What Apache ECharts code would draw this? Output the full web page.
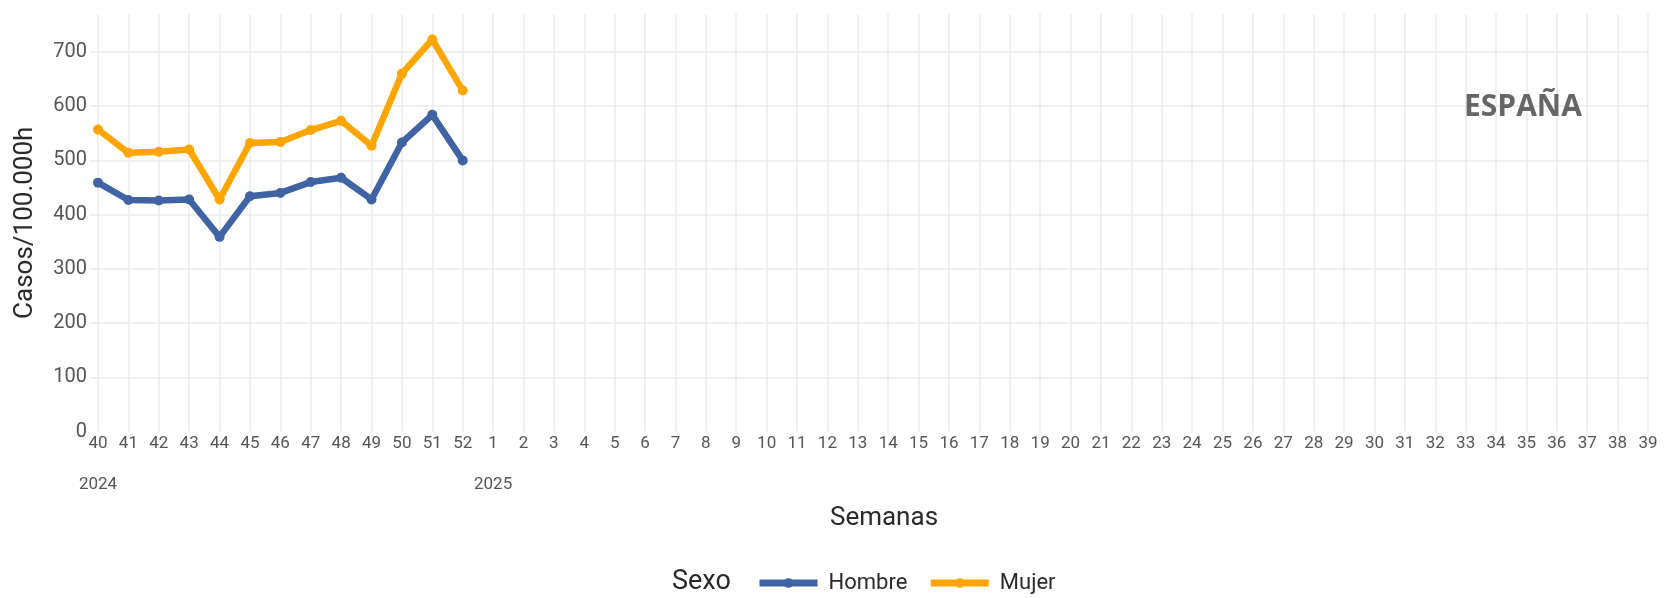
<!DOCTYPE html>
<html>
<head>
<meta charset="utf-8">
<title>Casos por sexo - España</title>
<script src="https://cdn.jsdelivr.net/npm/echarts@6/dist/echarts.min.js"></script>
<style>
  html, body { margin: 0; padding: 0; background: #fff; }
  #chart { width: 1672px; height: 598px; }
</style>
</head>
<body>
<div id="chart"></div>
<script>
// semanas epidemiológicas: 40-52 de 2024 y 1-39 de 2025
const weeks = ['40', '41', '42', '43', '44', '45', '46', '47', '48', '49', '50', '51', '52',
  '1', '2', '3', '4', '5', '6', '7', '8', '9', '10', '11', '12', '13', '14', '15', '16', '17',
  '18', '19', '20', '21', '22', '23', '24', '25', '26', '27', '28', '29', '30', '31', '32',
  '33', '34', '35', '36', '37', '38', '39'];
const years = { 0: '2024', 13: '2025' };

// casos/100.000h, solo hay datos hasta la semana 52
const hombre = [459, 427, 426, 428, 359, 434, 440, 460, 468, 428, 533, 584, 500];
const mujer = [557, 514, 516, 520, 428, 532, 534, 556, 573, 527, 660, 723, 629];

const yTicks = [0, 100, 200, 300, 400, 500, 600, 700];

const gridLine = { color: '#ebebeb', width: 1.5 };
const labelGrey = '#555';
const titleColor = '#2a2a2a';

const chart = echarts.init(document.getElementById('chart'));

chart.setOption({
  animation: false,
  textStyle: { fontFamily: 'Roboto, Arial, sans-serif' },
  grid: [
    { left: 98, right: 24, top: 14, bottom: 166.5 },
    // only used to draw the horizontal grid lines a bit wider
    { left: 90, right: 24, top: 14, bottom: 166.5 }
  ],
  xAxis: [
    {
      type: 'category',
      gridIndex: 0,
      data: weeks,
      boundaryGap: false,
      axisLine: { show: false },
      axisTick: { show: false },
      splitLine: { show: true, lineStyle: gridLine },
      axisLabel: { interval: 0, fontSize: 17, color: labelGrey, margin: 4 },
      name: 'Semanas',
      nameLocation: 'middle',
      nameGap: 74,
      nameTextStyle: { fontSize: 26, color: titleColor, padding: [0, 0, 0, 22] }
    },
    {
      type: 'category',
      gridIndex: 0,
      position: 'bottom',
      offset: 42,
      data: weeks,
      boundaryGap: false,
      axisLine: { show: false },
      axisTick: { show: false },
      splitLine: { show: false },
      axisLabel: {
        interval: 0, fontSize: 17, color: labelGrey, margin: 3,
        formatter: (v, i) => years[i] || ''
      }
    },
    { type: 'value', gridIndex: 1, min: 0, max: 1, show: false }
  ],
  yAxis: [
    {
      type: 'value',
      gridIndex: 0,
      min: 0,
      max: 770,
      interval: 100,
      axisLine: { show: false },
      axisTick: { show: false },
      splitLine: { show: false },
      axisLabel: {
        fontSize: 20, color: labelGrey, margin: 11,
        formatter: v => (yTicks.indexOf(v) >= 0 ? String(v) : '')
      },
      name: 'Casos/100.000h',
      nameLocation: 'middle',
      nameGap: 60,
      nameTextStyle: { fontSize: 26, color: titleColor }
    },
    {
      type: 'value',
      gridIndex: 1,
      min: 0,
      max: 770,
      interval: 100,
      axisLine: { show: false },
      axisTick: { show: false },
      axisLabel: { show: false },
      splitLine: { show: true, showMinLine: false, showMaxLine: false, lineStyle: gridLine }
    }
  ],
  legend: {
    left: 756,
    top: 572,
    padding: 0,
    itemWidth: 58,
    itemHeight: 12,
    itemGap: 20,
    lineStyle: { width: 7 },
    textStyle: { fontSize: 22, color: titleColor, padding: [0, 0, 0, 6] },
    data: ['Hombre', 'Mujer']
  },
  graphic: [
    {
      type: 'text', left: 672, top: 569, z: 100,
      style: { text: 'Sexo', fontSize: 27, fill: titleColor, fontFamily: 'Roboto, Arial, sans-serif' }
    },
    {
      type: 'text', left: 1464, top: 92, z: 100,
      style: { text: 'ESPAÑA', fontSize: 30, fontWeight: 'bold', fill: '#666', fontFamily: '"Open Sans", sans-serif' }
    }
  ],
  series: [
    {
      name: 'Hombre',
      type: 'line',
      xAxisIndex: 0,
      yAxisIndex: 0,
      data: hombre,
      symbol: 'circle',
      symbolSize: 10,
      color: '#3f63a3',
      lineStyle: { width: 6.5 }
    },
    {
      name: 'Mujer',
      type: 'line',
      xAxisIndex: 0,
      yAxisIndex: 0,
      data: mujer,
      symbol: 'circle',
      symbolSize: 10,
      color: '#ffa500',
      lineStyle: { width: 6.5 }
    }
  ]
});
</script>
</body>
</html>
